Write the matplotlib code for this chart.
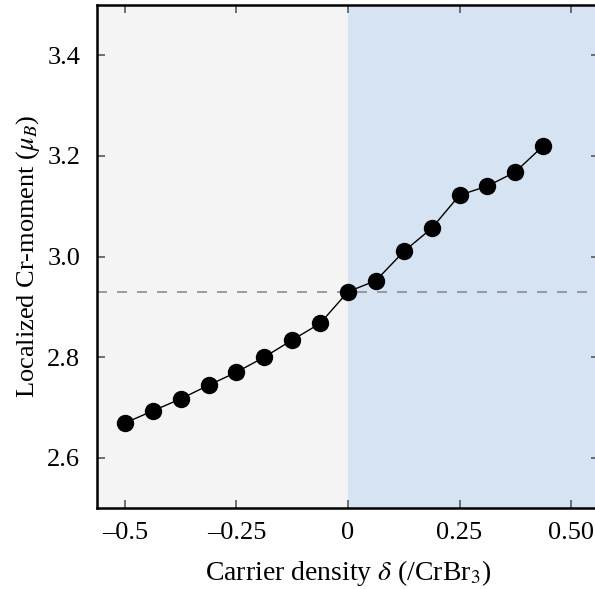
import matplotlib
matplotlib.use("Agg")
import matplotlib.pyplot as plt

plt.rcParams['font.family'] = ['Liberation Serif', 'DejaVu Serif']
plt.rcParams['mathtext.fontset'] = 'stix'

# carrier density (per CrBr3) and localized Cr moment (mu_B)
delta = [-0.5, -0.4375, -0.375, -0.3125, -0.25, -0.1875, -0.125, -0.0625,
         0.0, 0.0625, 0.125, 0.1875, 0.25, 0.3125, 0.375, 0.4375]
moment = [2.669, 2.693, 2.717, 2.744, 2.770, 2.800, 2.834, 2.867,
          2.930, 2.952, 3.010, 3.056, 3.122, 3.140, 3.168, 3.220]
moment_undoped = 2.930

xticks = [-0.5, -0.25, 0, 0.25, 0.5]
xticklabels = ['\u20130.5', '\u20130.25', '0', '0.25', '0.50']
yticks = [2.6, 2.8, 3.0, 3.2, 3.4]

fig = plt.figure(figsize=(5.95, 5.89), dpi=100)
ax = fig.add_axes([0.163, 0.1375, 0.8437, 0.854])

xmin, xmax = -0.5625, 0.5625
ax.axvspan(xmin, 0, color='#f4f4f4', zorder=0, lw=0)
ax.axvspan(0, xmax, color='#d6e3f3', zorder=0, lw=0)

ax.axhline(moment_undoped, color='0.55', lw=1.2, ls=(0, (6, 6)), zorder=1)
ax.plot(delta, moment, '-o', color='black', lw=1.0, markersize=11.5, zorder=3)

ax.set_xlim(xmin, xmax)
ax.set_ylim(2.5, 3.5)
ax.set_xticks(xticks)
ax.set_xticklabels(xticklabels)
ax.set_yticks(yticks)
ax.set_yticklabels(['%.1f' % v for v in yticks])
ax.tick_params(direction='in', length=6, width=1.2, color='0.35',
               top=True, right=True, labelsize=19)
ax.tick_params(axis='x', pad=10)
ax.tick_params(axis='y', pad=12)
for s in ax.spines.values():
    s.set_linewidth(1.8)

ax.set_xlabel(r'Carrier density $\delta$ (/CrBr$_3$)', fontsize=20, labelpad=10)
ax.set_ylabel(r'Localized Cr-moment ($\mu_B$)', fontsize=19, labelpad=4)

fig.savefig('out.png', dpi=100)
